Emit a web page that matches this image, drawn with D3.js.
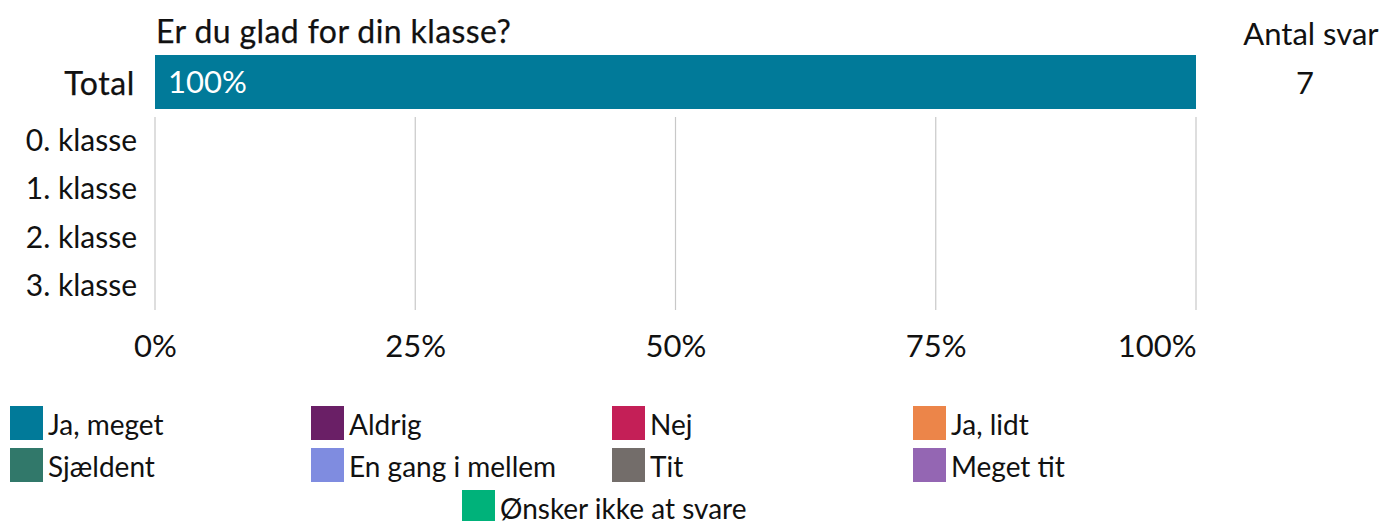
<!DOCTYPE html>
<html>
<head>
<meta charset="utf-8">
<script src="https://cdn.jsdelivr.net/npm/d3@7"></script>
<style>
  body { margin: 0; background: #fff; }
  text { font-family: Lato, "Open Sans", sans-serif; fill: #111; }
</style>
</head>
<body>
<svg id="chart" width="1385" height="521"></svg>
<script>
// data
const title = 'Er du glad for din klasse?';
const countTitle = 'Antal svar';
const totalLabel = 'Total';
const totalValues = [1.0];         // share per category for Total
const totalCount = 7;
const groups = ['0. klasse', '1. klasse', '2. klasse', '3. klasse'];
const ticks = [0, 0.25, 0.5, 0.75, 1];
const categories = ['Ja, meget', 'Aldrig', 'Nej', 'Ja, lidt', 'Sjældent',
    'En gang i mellem', 'Tit', 'Meget tit', 'Ønsker ikke at svare'];
const colors = ['#017a99', '#6a1f66', '#c41f57', '#ec8549', '#31786a',
    '#7f8ce0', '#736d6a', '#9466b3', '#00b27a'];

const svg = d3.select('#chart');
const left = 155, right = 1196;

const x = d3.scaleLinear().domain([0, 1]).range([left, right]);
const yTotal = d3.scaleBand().domain([totalLabel]).range([55, 109]);
const y = d3.scaleBand().domain(groups).range([117, 310]);
const color = d3.scaleOrdinal().domain(categories).range(colors);

// gridlines
svg.append('g')
    .selectAll('line')
    .data(ticks)
    .enter().append('line')
    .attr('x1', d => x(d)).attr('x2', d => x(d))
    .attr('y1', 117).attr('y2', 310)
    .attr('stroke', '#c8c8c8')
    .attr('stroke-width', 1.2);

// title (medium-ish weight: regular + thin stroke)
svg.append('text')
    .attr('x', left + 1).attr('y', 43)
    .attr('font-size', 32)
    .attr('letter-spacing', 0.4)
    .attr('stroke', '#111').attr('stroke-width', 0.25)
    .text(title);

svg.append('text')
    .attr('x', 1311).attr('y', 45)
    .attr('text-anchor', 'middle')
    .attr('font-size', 31)
    .text(countTitle);

// total bar, stacked
const stack = [];
let acc = 0;
totalValues.forEach((v, i) => { stack.push({ x0: acc, x1: acc + v, cat: categories[i] }); acc += v; });

const bars = svg.append('g');
bars.selectAll('rect')
    .data(stack)
    .enter().append('rect')
    .attr('x', d => x(d.x0))
    .attr('width', d => x(d.x1) - x(d.x0))
    .attr('y', yTotal(totalLabel))
    .attr('height', yTotal.bandwidth())
    .attr('fill', d => color(d.cat));
bars.selectAll('text')
    .data(stack)
    .enter().append('text')
    .attr('x', d => x(d.x0) + 13)
    .attr('y', yTotal(totalLabel) + yTotal.bandwidth() / 2 + 11)
    .attr('font-size', 31)
    .style('fill', '#fff')
    .text(d => Math.round((d.x1 - d.x0) * 100) + '%');

svg.append('text')
    .attr('x', 1305).attr('y', yTotal(totalLabel) + yTotal.bandwidth() / 2 + 12)
    .attr('text-anchor', 'middle')
    .attr('font-size', 31)
    .text(totalCount);

// row labels
svg.append('text')
    .attr('x', 135).attr('y', yTotal(totalLabel) + yTotal.bandwidth() / 2 + 13)
    .attr('text-anchor', 'end')
    .attr('font-size', 32)
    .attr('letter-spacing', 0.6)
    .attr('stroke', '#111').attr('stroke-width', 0.25)
    .text(totalLabel);

svg.append('g')
    .selectAll('text')
    .data(groups)
    .enter().append('text')
    .attr('x', 137)
    .attr('y', d => y(d) + y.bandwidth() / 2 + 10)
    .attr('text-anchor', 'end')
    .attr('font-size', 30)
    .text(d => d);

// x axis labels
const axis = d3.axisBottom(x).tickValues(ticks).tickFormat(d3.format('.0%')).tickSize(0).tickPadding(0);
const ax = svg.append('g').attr('transform', 'translate(0,357)').call(axis);
ax.select('.domain').remove();
ax.selectAll('text')
    .attr('font-size', 31)
    .attr('dy', 0)
    .attr('y', 0)
    .style('font-family', 'Lato, sans-serif')
    .attr('fill', '#111')
    .attr('text-anchor', d => d === 1 ? 'end' : 'middle');

// legend
const colX = [10, 311, 612, 913];
const legendItems = categories.map((c, i) => {
    if (i < 8) return { c, x: colX[i % 4], y: 406 + Math.floor(i / 4) * 42 };
    return { c, x: 462, y: 490 };
});
const lg = svg.append('g')
    .selectAll('g')
    .data(legendItems)
    .enter().append('g')
    .attr('transform', d => `translate(${d.x},${d.y})`);
lg.append('rect')
    .attr('width', 33).attr('height', 34)
    .attr('fill', d => color(d.c));
lg.append('text')
    .attr('x', 38).attr('y', 29)
    .attr('font-size', 28)
    .text(d => d.c);
</script>
</body>
</html>
